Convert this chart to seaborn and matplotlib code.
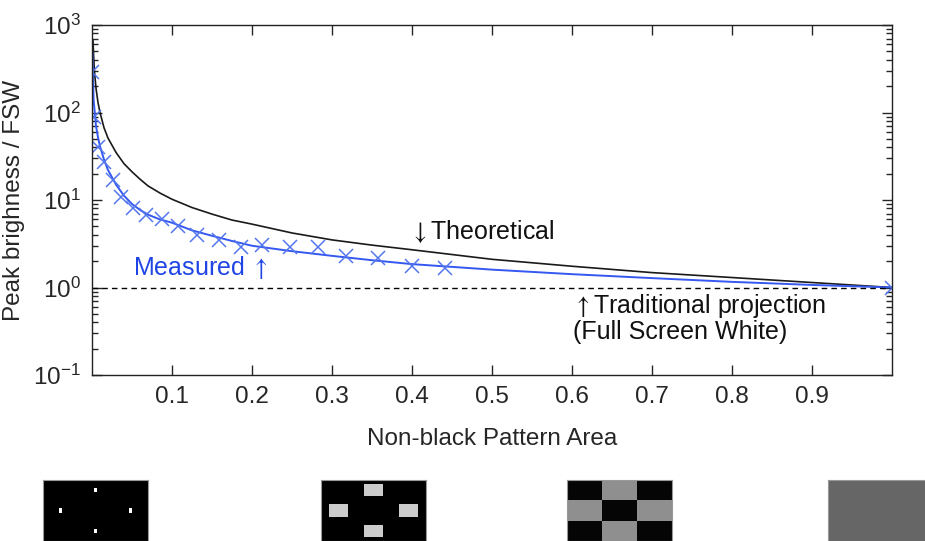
import numpy as np
import pandas as pd
import matplotlib
matplotlib.use("Agg")
import matplotlib.pyplot as plt
import seaborn as sns

# Theoretical peak brightness (black curve)
theory_x = [0.0012, 0.002, 0.003, 0.005, 0.0075, 0.01, 0.015, 0.02, 0.03, 0.04, 0.05,
            0.06, 0.07, 0.085, 0.1, 0.125, 0.15, 0.175, 0.2, 0.25, 0.3, 0.35,
            0.4, 0.5, 0.6, 0.7, 0.8, 0.9, 1.0]
theory_y = [680, 450, 300, 190, 130, 100, 67, 51, 35, 26, 21,
            17.3, 14.5, 12.0, 10.2, 8.2, 6.9, 5.9, 5.3, 4.2, 3.5, 3.05,
            2.7, 2.1, 1.75, 1.48, 1.3, 1.14, 1.0]

# Measured fit (blue line)
fit_x = [0.0005, 0.002, 0.005, 0.0075, 0.01, 0.015, 0.02, 0.03, 0.04, 0.05, 0.06,
         0.07, 0.085, 0.1, 0.125, 0.15, 0.175, 0.2, 0.25, 0.3, 0.35,
         0.4, 0.5, 0.6, 0.7, 0.8, 0.9, 1.0]
fit_y = [500, 140, 70, 52, 41, 29, 22, 15, 11.2, 9, 7.7,
         6.8, 6.0, 5.5, 4.5, 3.9, 3.4, 3.0, 2.6, 2.3, 2.05,
         1.85, 1.6, 1.42, 1.28, 1.16, 1.07, 1.0]

# Measured points (blue crosses)
meas_x = [0.0, 0.0025, 0.008, 0.015, 0.026, 0.036, 0.051, 0.067, 0.087, 0.108, 0.131,
          0.159, 0.186, 0.213, 0.248, 0.283, 0.318, 0.358, 0.40, 0.441, 1.0]
meas_y = [290, 88, 40, 27, 17, 10.7, 8.2, 6.8, 6.0, 5.0, 4.0,
          3.5, 2.9, 3.1, 2.9, 2.9, 2.3, 2.2, 1.75, 1.65, 1.0]

# Full screen white reference
fsw_x = [0.0, 1.0]
fsw_y = [1.0, 1.0]

x_ticks = [0.1, 0.2, 0.3, 0.4, 0.5, 0.6, 0.7, 0.8, 0.9]

sns.set_style("ticks")
plt.rcParams['font.family'] = ['Liberation Sans', 'DejaVu Sans']
# stix sans gives the thin tall arrows; \mathdefault tick labels still use Liberation Sans
plt.rcParams['mathtext.fontset'] = 'stixsans'

fig = plt.figure(figsize=(9.25, 5.41), dpi=100)
ax = fig.add_axes([92/925, 1 - 375/541, 800/925, 350/541])

sns.lineplot(x=theory_x, y=theory_y, color='#1a1a1a', lw=1.2, ax=ax)
sns.lineplot(x=fit_x, y=fit_y, color='#3558f0', lw=1.4, ax=ax)
sns.lineplot(x=fsw_x, y=fsw_y, color='black', lw=1.0, linestyle=(0, (4, 3)), ax=ax)
ax.plot(meas_x, meas_y, linestyle='none', marker='x', ms=10, mew=1.1, color='#5577ee')

ax.set_yscale('log')
ax.set_xlim(0, 1)
ax.set_ylim(0.1, 1000)
ax.set_xticks(x_ticks)
ax.set_xticklabels([str(t) for t in x_ticks])
ax.tick_params(which='both', direction='in', top=True, right=True, labelsize=17.5, pad=8)
ax.tick_params(which='major', length=7, width=1)
ax.tick_params(which='minor', length=4, width=1)
for s in ax.spines.values():
    s.set_linewidth(1)
    s.set_color('#222222')

ax.set_xlabel('Non-black Pattern Area', fontsize=17.5, labelpad=14)
ax.set_ylabel('Peak brighness / FSW', fontsize=17.5, labelpad=6)

ax.text(0.397, 4.4, r'$\downarrow$Theoretical', fontsize=18, va='center', ha='left', color='#111111')
ax.text(0.051, 1.69, r'Measured $\uparrow$', fontsize=18, va='center', ha='left', color='#1f45e6')
ax.text(0.601, 0.9, '$\\uparrow$Traditional projection\n(Full Screen White)', fontsize=18,
        va='top', ha='left', color='#111111', linespacing=1.05)

# pattern thumbnails below the chart
thumb1 = np.zeros((15, 27))
thumb2 = np.zeros((15, 27))
for r, c in [(2, 13), (7, 4), (7, 22), (12, 13)]:
    thumb1[r, c] = 1.0
    thumb2[r - 1:r + 2, c - 2:c + 3] = 0.8
g = 0.56
thumb3 = np.array([[0.02, g, 0.02], [g, 0.02, g], [0.02, g, 0.02]])
thumb4 = np.array([[0.4]])

thumb_left = [43, 321, 567, 828]
for left, img in zip(thumb_left, [thumb1, thumb2, thumb3, thumb4]):
    tax = fig.add_axes([left/925, 0, 105/925, 61/541])
    tax.imshow(img, cmap='gray', vmin=0, vmax=1, aspect='auto', interpolation='nearest')
    tax.set_xticks([])
    tax.set_yticks([])
    for s in tax.spines.values():
        s.set_color('#999999')
        s.set_linewidth(0.8)

fig.savefig('out.png', dpi=100)
